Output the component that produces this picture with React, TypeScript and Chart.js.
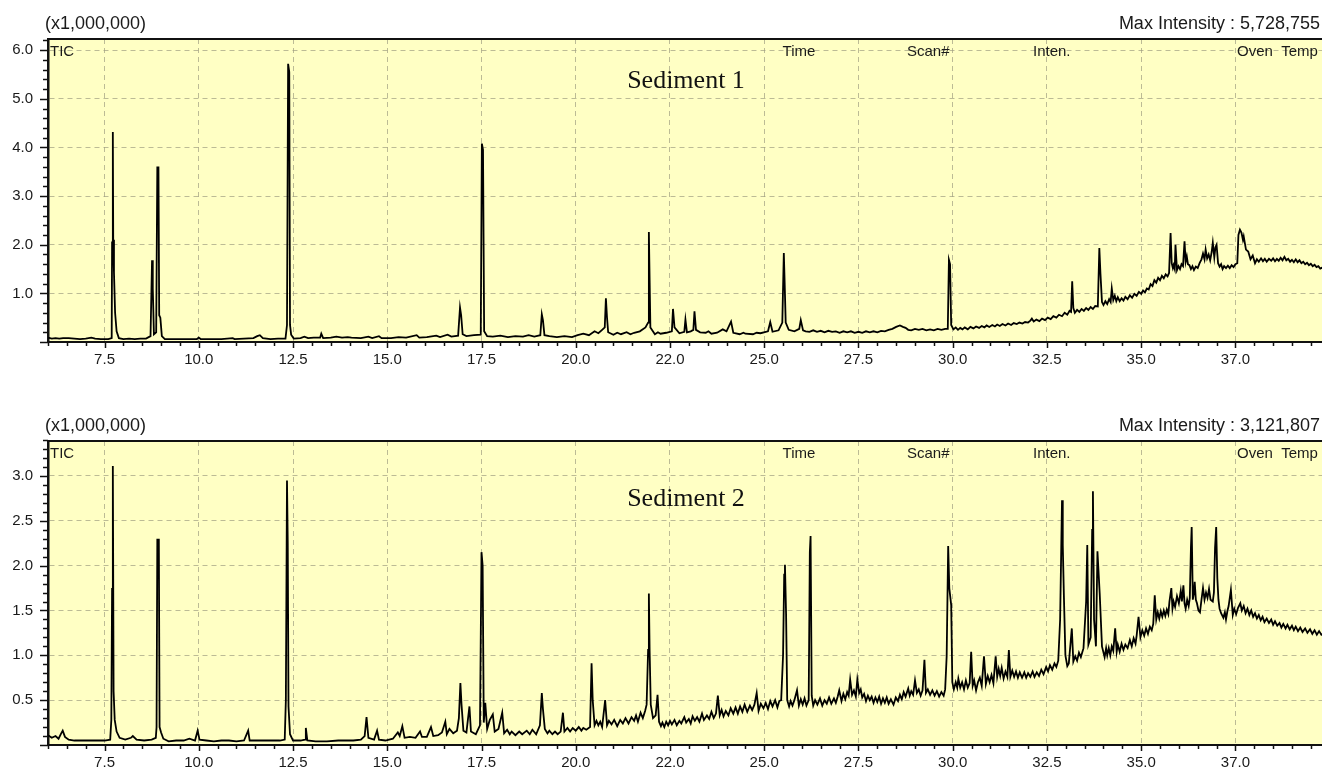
import React, { useEffect, useRef } from 'react';
import { Chart, registerables } from 'chart.js';

Chart.register(...registerables);

// ---- Axis ticks ----
const xTickValues = [7.5, 10, 12.5, 15, 17.5, 20, 22.5, 25, 27.5, 30, 32.5, 35, 37.5];
const xTickLabels = ['7.5', '10.0', '12.5', '15.0', '17.5', '20.0', '22.0', '25.0', '27.5', '30.0', '32.5', '35.0', '37.0'];
const yTicksSediment1 = [1, 2, 3, 4, 5, 6];
const yTicksSediment2 = [0.5, 1, 1.5, 2, 2.5, 3];
const headerLabels = ['Time', 'Scan#', 'Inten.', 'Oven  Temp'];

// ---- Chromatogram traces: [retention time (min), intensity (x1,000,000)] ----
const sediment1Trace: [number, number][] = [
  [6.00,0.09],[6.10,0.07],[6.20,0.08],[6.30,0.07],[6.40,0.08],[6.55,0.08],[6.70,0.07],[6.85,0.06],[7.00,0.07],[7.15,0.09],[7.25,0.07],[7.40,0.06],[7.60,0.06],
  [7.69,0.08],[7.70,2.05],[7.72,4.32],[7.73,2.10],[7.75,1.43],[7.78,0.60],[7.82,0.22],[7.88,0.08],[8.00,0.06],[8.15,0.07],[8.30,0.06],[8.45,0.07],[8.60,0.07],
  [8.72,0.12],[8.76,1.68],[8.78,1.10],[8.81,0.16],[8.87,0.20],[8.90,3.59],[8.93,3.59],[8.95,0.55],[8.98,0.50],[9.02,0.12],[9.10,0.06],[9.30,0.06],[9.50,0.06],
  [9.70,0.06],[9.95,0.06],[10.00,0.09],[10.05,0.06],[10.30,0.06],[10.60,0.06],[10.90,0.08],[10.95,0.06],[11.20,0.07],[11.45,0.08],[11.55,0.12],[11.62,0.14],
  [11.70,0.08],[11.90,0.06],[12.10,0.07],[12.30,0.07],[12.34,0.35],[12.37,5.72],[12.40,5.55],[12.42,0.35],[12.45,0.15],[12.52,0.07],[12.70,0.08],[12.80,0.11],
  [12.90,0.08],[13.05,0.09],[13.22,0.09],[13.25,0.17],[13.30,0.08],[13.50,0.09],[13.65,0.11],[13.80,0.09],[13.95,0.10],[14.05,0.09],[14.30,0.08],[14.50,0.11],
  [14.60,0.08],[14.78,0.12],[14.85,0.08],[15.10,0.08],[15.30,0.10],[15.50,0.09],[15.78,0.14],[15.85,0.09],[16.05,0.10],[16.30,0.13],[16.40,0.10],[16.60,0.15],
  [16.70,0.11],[16.88,0.13],[16.93,0.71],[16.96,0.55],[17.00,0.16],[17.10,0.12],[17.30,0.14],[17.48,0.15],[17.51,4.08],[17.54,3.95],[17.57,0.22],[17.65,0.12],
  [17.80,0.11],[18.00,0.13],[18.20,0.10],[18.40,0.12],[18.60,0.11],[18.75,0.14],[18.90,0.11],[19.06,0.14],[19.10,0.57],[19.13,0.45],[19.17,0.14],[19.30,0.12],
  [19.50,0.10],[19.70,0.12],[19.90,0.10],[20.05,0.14],[20.20,0.17],[20.35,0.14],[20.50,0.22],[20.60,0.18],[20.70,0.25],[20.77,0.30],[20.80,0.90],[20.83,0.50],
  [20.86,0.20],[21.00,0.15],[21.10,0.19],[21.20,0.16],[21.35,0.20],[21.45,0.16],[21.55,0.19],[21.70,0.22],[21.85,0.30],[21.92,0.40],[21.94,2.26],[21.96,1.28],
  [21.98,0.30],[22.10,0.16],[22.18,0.20],[22.25,0.17],[22.40,0.19],[22.55,0.22],[22.58,0.68],[22.62,0.30],[22.75,0.18],[22.88,0.21],[22.91,0.46],[22.95,0.20],
  [23.05,0.22],[23.12,0.25],[23.15,0.63],[23.19,0.25],[23.30,0.20],[23.45,0.19],[23.52,0.22],[23.60,0.17],[23.75,0.19],[23.90,0.26],[24.00,0.22],[24.12,0.42],
  [24.18,0.19],[24.35,0.16],[24.45,0.19],[24.50,0.17],[24.70,0.16],[24.80,0.19],[24.90,0.18],[25.10,0.22],[25.16,0.41],[25.22,0.21],[25.38,0.24],[25.48,0.40],
  [25.52,1.83],[25.54,1.28],[25.57,0.40],[25.65,0.25],[25.80,0.22],[25.93,0.27],[25.97,0.45],[26.03,0.24],[26.10,0.22],[26.20,0.21],[26.30,0.24],[26.40,0.21],
  [26.50,0.23],[26.60,0.20],[26.70,0.23],[26.80,0.21],[26.90,0.22],[27.00,0.19],[27.10,0.22],[27.20,0.20],[27.30,0.22],[27.40,0.19],[27.50,0.21],[27.60,0.19],
  [27.70,0.22],[27.80,0.20],[27.90,0.22],[28.00,0.20],[28.10,0.23],[28.20,0.22],[28.30,0.25],[28.40,0.27],[28.50,0.31],[28.60,0.34],[28.68,0.31],[28.75,0.29],
  [28.82,0.25],[28.90,0.24],[29.00,0.27],[29.10,0.25],[29.20,0.27],[29.30,0.24],[29.40,0.26],[29.50,0.24],[29.60,0.27],[29.70,0.25],[29.80,0.27],[29.87,0.27],
  [29.90,1.69],[29.93,1.60],[29.96,0.35],[30.02,0.26],[30.08,0.30],[30.14,0.25],[30.20,0.29],[30.26,0.26],[30.32,0.30],[30.40,0.26],[30.47,0.31],[30.55,0.28],
  [30.62,0.32],[30.70,0.29],[30.77,0.33],[30.84,0.30],[30.90,0.34],[30.97,0.31],[31.05,0.35],[31.12,0.32],[31.18,0.36],[31.25,0.33],[31.32,0.37],[31.40,0.34],
  [31.47,0.38],[31.55,0.35],[31.62,0.39],[31.70,0.37],[31.77,0.40],[31.85,0.38],[31.92,0.41],[32.00,0.40],[32.06,0.44],[32.10,0.48],[32.15,0.42],[32.22,0.46],
  [32.30,0.43],[32.37,0.48],[32.45,0.45],[32.52,0.50],[32.60,0.47],[32.67,0.53],[32.75,0.50],[32.82,0.56],[32.90,0.53],[32.97,0.60],[33.04,0.56],[33.10,0.64],
  [33.14,0.62],[33.17,1.25],[33.20,0.70],[33.24,0.60],[33.30,0.66],[33.36,0.62],[33.42,0.68],[33.48,0.64],[33.54,0.70],[33.60,0.66],[33.66,0.72],[33.72,0.68],
  [33.78,0.74],[33.85,0.73],[33.89,1.93],[33.92,1.40],[33.96,0.82],[34.00,0.76],[34.05,0.84],[34.10,0.78],[34.15,0.88],[34.19,0.82],[34.22,1.10],[34.26,0.86],
  [34.30,0.95],[34.34,0.84],[34.38,0.92],[34.43,0.84],[34.48,0.90],[34.53,0.85],[34.58,0.93],[34.64,0.88],[34.70,0.96],[34.76,0.91],[34.82,0.99],[34.88,0.95],
  [34.94,1.03],[35.00,0.99],[35.05,1.06],[35.10,1.02],[35.15,1.10],[35.20,1.08],[35.25,1.19],[35.30,1.15],[35.35,1.27],[35.40,1.22],[35.45,1.32],[35.50,1.27],
  [35.55,1.36],[35.60,1.31],[35.65,1.39],[35.70,1.35],[35.74,1.42],[35.78,2.24],[35.81,1.62],[35.84,1.52],[35.86,1.58],[35.89,1.50],[35.91,2.00],[35.95,1.48],
  [35.99,1.56],[36.03,1.50],[36.07,1.60],[36.11,1.56],[36.15,2.07],[36.18,1.65],[36.21,1.76],[36.24,1.60],[36.28,1.58],[36.32,1.50],[36.36,1.56],[36.40,1.48],
  [36.45,1.55],[36.50,1.52],[36.55,1.62],[36.60,1.70],[36.64,1.82],[36.68,1.70],[36.71,1.90],[36.75,1.72],[36.79,1.80],[36.83,1.68],[36.87,1.85],[36.90,2.04],
  [36.94,1.74],[36.97,1.95],[37.00,2.00],[37.04,1.62],[37.08,1.55],[37.12,1.60],[37.16,1.50],[37.20,1.56],[37.25,1.52],[37.30,1.57],[37.35,1.52],[37.40,1.58],
  [37.45,1.54],[37.50,1.60],[37.55,1.62],[37.58,2.20],[37.62,2.31],[37.66,2.25],[37.70,2.10],[37.72,2.17],[37.78,1.90],[37.84,1.86],[37.90,1.70],[37.96,1.78],
  [38.02,1.62],[38.07,1.70],[38.12,1.65],[38.18,1.72],[38.23,1.66],[38.28,1.71],[38.33,1.65],[38.39,1.71],[38.45,1.67],[38.50,1.72],[38.55,1.66],[38.60,1.71],
  [38.65,1.67],[38.70,1.73],[38.75,1.68],[38.80,1.75],[38.85,1.68],[38.90,1.71],[38.95,1.65],[39.00,1.69],[39.05,1.64],[39.10,1.70],[39.15,1.64],[39.20,1.68],
  [39.25,1.62],[39.30,1.65],[39.35,1.60],[39.40,1.63],[39.45,1.58],[39.50,1.61],[39.55,1.56],[39.60,1.59],[39.65,1.54],[39.70,1.56],[39.75,1.51],[39.80,1.53],
  [39.85,1.49],[39.90,1.50]
];

const sediment2Trace: [number, number][] = [
  [6.00,0.11],[6.10,0.08],[6.20,0.10],[6.28,0.07],[6.35,0.13],[6.39,0.16],[6.45,0.09],[6.55,0.06],[6.70,0.05],[6.90,0.05],[7.10,0.05],[7.30,0.05],[7.50,0.05],
  [7.65,0.06],[7.68,0.28],[7.70,1.74],[7.72,3.11],[7.74,0.60],[7.77,0.28],[7.82,0.15],[7.90,0.08],[8.05,0.06],[8.20,0.08],[8.25,0.10],[8.35,0.06],[8.55,0.05],
  [8.75,0.06],[8.86,0.08],[8.88,0.20],[8.90,2.29],[8.94,2.29],[8.96,0.20],[9.00,0.14],[9.06,0.07],[9.20,0.04],[9.40,0.05],[9.60,0.05],[9.75,0.07],[9.90,0.05],
  [9.97,0.16],[10.02,0.06],[10.20,0.05],[10.40,0.04],[10.60,0.05],[10.80,0.05],[11.00,0.04],[11.20,0.05],[11.31,0.16],[11.35,0.05],[11.60,0.05],[11.90,0.05],
  [12.15,0.05],[12.28,0.06],[12.31,0.50],[12.34,2.95],[12.36,2.25],[12.38,0.43],[12.42,0.12],[12.50,0.05],[12.70,0.05],[12.82,0.06],[12.84,0.19],[12.88,0.05],
  [13.10,0.04],[13.40,0.04],[13.70,0.05],[13.95,0.05],[14.10,0.05],[14.30,0.06],[14.40,0.10],[14.45,0.31],[14.50,0.08],[14.65,0.06],[14.73,0.16],[14.78,0.06],
  [14.95,0.05],[15.15,0.07],[15.28,0.14],[15.33,0.10],[15.40,0.21],[15.46,0.08],[15.60,0.09],[15.75,0.08],[15.87,0.15],[15.92,0.09],[16.05,0.09],[16.16,0.20],
  [16.22,0.10],[16.35,0.11],[16.45,0.14],[16.54,0.26],[16.58,0.12],[16.65,0.18],[16.75,0.13],[16.85,0.16],[16.90,0.30],[16.94,0.69],[16.97,0.45],[17.02,0.16],
  [17.10,0.14],[17.18,0.43],[17.22,0.15],[17.35,0.12],[17.46,0.22],[17.50,2.15],[17.53,2.00],[17.56,0.25],[17.60,0.47],[17.65,0.18],[17.72,0.28],[17.80,0.34],
  [17.85,0.15],[17.95,0.18],[18.05,0.36],[18.10,0.13],[18.18,0.17],[18.25,0.12],[18.30,0.15],[18.40,0.11],[18.50,0.15],[18.58,0.12],[18.70,0.16],[18.78,0.12],
  [18.85,0.17],[18.95,0.12],[19.05,0.22],[19.10,0.58],[19.13,0.40],[19.18,0.18],[19.25,0.13],[19.30,0.16],[19.38,0.12],[19.45,0.15],[19.52,0.12],[19.60,0.15],
  [19.66,0.36],[19.70,0.15],[19.78,0.19],[19.85,0.15],[19.92,0.19],[20.00,0.16],[20.08,0.20],[20.15,0.16],[20.20,0.19],[20.28,0.17],[20.38,0.20],[20.42,0.91],
  [20.45,0.50],[20.50,0.22],[20.55,0.27],[20.60,0.22],[20.65,0.26],[20.70,0.20],[20.78,0.50],[20.83,0.22],[20.88,0.27],[20.95,0.23],[21.02,0.28],[21.10,0.21],
  [21.18,0.28],[21.25,0.24],[21.32,0.30],[21.40,0.24],[21.48,0.31],[21.55,0.27],[21.60,0.33],[21.65,0.26],[21.72,0.36],[21.78,0.30],[21.84,0.38],[21.88,0.45],
  [21.92,1.06],[21.94,1.69],[21.96,1.05],[21.99,0.45],[22.05,0.30],[22.12,0.33],[22.17,0.56],[22.21,0.26],[22.26,0.21],[22.30,0.25],[22.35,0.20],[22.40,0.26],
  [22.45,0.22],[22.50,0.27],[22.55,0.23],[22.62,0.28],[22.68,0.22],[22.75,0.27],[22.80,0.24],[22.88,0.31],[22.93,0.25],[23.00,0.29],[23.05,0.24],[23.10,0.32],
  [23.16,0.27],[23.22,0.31],[23.28,0.26],[23.35,0.35],[23.40,0.28],[23.48,0.33],[23.54,0.29],[23.60,0.37],[23.66,0.30],[23.72,0.35],[23.77,0.55],[23.82,0.33],
  [23.87,0.39],[23.92,0.32],[23.98,0.38],[24.05,0.33],[24.11,0.41],[24.18,0.35],[24.24,0.42],[24.30,0.35],[24.36,0.43],[24.42,0.37],[24.48,0.45],[24.55,0.37],
  [24.62,0.44],[24.68,0.39],[24.74,0.45],[24.80,0.58],[24.85,0.38],[24.91,0.46],[24.98,0.41],[25.04,0.47],[25.10,0.40],[25.16,0.49],[25.22,0.43],[25.29,0.50],
  [25.35,0.42],[25.40,0.49],[25.45,0.50],[25.50,1.00],[25.53,1.90],[25.55,2.01],[25.58,1.46],[25.61,0.50],[25.66,0.43],[25.70,0.49],[25.75,0.44],[25.80,0.50],
  [25.87,0.61],[25.92,0.44],[25.97,0.51],[26.02,0.45],[26.07,0.52],[26.12,0.44],[26.18,0.50],[26.21,2.15],[26.23,2.33],[26.26,0.55],[26.30,0.44],[26.35,0.50],
  [26.41,0.45],[26.48,0.52],[26.54,0.44],[26.60,0.50],[26.66,0.46],[26.72,0.53],[26.78,0.46],[26.85,0.52],[26.90,0.47],[26.95,0.54],[26.99,0.61],[27.05,0.49],
  [27.10,0.57],[27.15,0.51],[27.20,0.59],[27.24,0.55],[27.28,0.73],[27.33,0.56],[27.38,0.61],[27.43,0.54],[27.47,0.73],[27.52,0.58],[27.56,0.62],[27.60,0.53],
  [27.65,0.57],[27.70,0.49],[27.75,0.55],[27.80,0.50],[27.85,0.54],[27.90,0.47],[27.95,0.53],[28.00,0.48],[28.05,0.54],[28.10,0.46],[28.15,0.52],[28.20,0.47],
  [28.25,0.53],[28.30,0.46],[28.36,0.51],[28.43,0.45],[28.49,0.53],[28.55,0.49],[28.60,0.56],[28.65,0.51],[28.70,0.59],[28.75,0.54],[28.82,0.63],[28.86,0.55],
  [28.90,0.60],[28.95,0.56],[29.00,0.72],[29.05,0.58],[29.10,0.62],[29.15,0.55],[29.20,0.61],[29.25,0.95],[29.29,0.58],[29.34,0.62],[29.40,0.56],[29.46,0.61],
  [29.52,0.55],[29.58,0.60],[29.64,0.54],[29.70,0.59],[29.76,0.55],[29.80,0.62],[29.84,0.99],[29.88,2.22],[29.91,1.75],[29.96,1.56],[29.99,0.70],[30.03,0.62],
  [30.08,0.70],[30.12,0.64],[30.15,0.74],[30.20,0.64],[30.25,0.70],[30.30,0.62],[30.35,0.72],[30.40,0.64],[30.45,0.69],[30.49,1.04],[30.53,0.66],[30.57,0.72],
  [30.62,0.61],[30.67,0.70],[30.72,0.75],[30.77,0.66],[30.83,0.99],[30.88,0.68],[30.93,0.77],[30.98,0.70],[31.03,0.78],[31.08,0.69],[31.14,0.99],[31.18,0.76],
  [31.22,0.85],[31.26,0.77],[31.30,0.86],[31.35,0.74],[31.40,0.82],[31.45,0.76],[31.49,1.06],[31.53,0.76],[31.58,0.83],[31.63,0.76],[31.68,0.82],[31.73,0.75],
  [31.78,0.81],[31.84,0.75],[31.90,0.81],[31.95,0.75],[32.00,0.80],[32.06,0.76],[32.12,0.82],[32.17,0.76],[32.23,0.81],[32.29,0.77],[32.35,0.84],[32.41,0.79],
  [32.48,0.87],[32.53,0.82],[32.58,0.89],[32.64,0.84],[32.70,0.91],[32.75,0.87],[32.80,0.94],[32.85,1.40],[32.88,2.20],[32.90,2.73],[32.92,2.23],[32.95,1.66],
  [32.99,1.00],[33.04,0.88],[33.08,0.91],[33.16,1.30],[33.20,0.93],[33.25,0.99],[33.30,0.94],[33.35,1.03],[33.40,0.98],[33.47,1.08],[33.54,1.60],[33.57,2.23],
  [33.60,1.12],[33.66,1.20],[33.70,2.40],[33.72,2.83],[33.75,1.40],[33.80,1.10],[33.84,2.16],[33.90,1.69],[33.96,1.10],[34.03,0.98],[34.07,1.08],[34.10,1.00],
  [34.14,1.08],[34.18,1.00],[34.22,1.10],[34.26,1.05],[34.31,1.30],[34.35,1.04],[34.38,1.12],[34.43,1.04],[34.48,1.13],[34.53,1.06],[34.58,1.12],[34.64,1.08],
  [34.70,1.17],[34.75,1.10],[34.80,1.19],[34.85,1.13],[34.88,1.22],[34.93,1.43],[34.98,1.20],[35.03,1.28],[35.08,1.22],[35.13,1.30],[35.18,1.24],[35.23,1.32],
  [35.28,1.28],[35.32,1.35],[35.36,1.67],[35.40,1.40],[35.44,1.48],[35.48,1.41],[35.52,1.49],[35.56,1.43],[35.60,1.50],[35.64,1.44],[35.68,1.51],[35.72,1.46],
  [35.75,1.60],[35.80,1.75],[35.83,1.52],[35.86,1.60],[35.90,1.54],[35.95,1.66],[36.00,1.58],[36.05,1.72],[36.08,1.60],[36.12,1.78],[36.15,1.58],[36.18,1.52],
  [36.22,1.62],[36.26,1.55],[36.29,1.64],[36.32,2.20],[36.34,2.43],[36.37,1.62],[36.40,1.70],[36.42,1.82],[36.45,1.62],[36.48,1.58],[36.52,1.50],[36.56,1.48],
  [36.60,1.62],[36.64,1.75],[36.68,1.62],[36.72,1.70],[36.76,1.64],[36.80,1.74],[36.84,1.62],[36.90,1.60],[36.93,1.70],[36.96,2.20],[36.99,2.43],[37.02,1.86],
  [37.05,1.62],[37.08,1.52],[37.12,1.47],[37.18,1.42],[37.22,1.48],[37.25,1.40],[37.29,1.50],[37.32,1.55],[37.38,1.73],[37.43,1.45],[37.47,1.52],[37.52,1.46],
  [37.57,1.53],[37.63,1.58],[37.67,1.50],[37.72,1.55],[37.77,1.47],[37.82,1.52],[37.87,1.45],[37.92,1.50],[37.97,1.43],[38.02,1.47],[38.07,1.41],[38.12,1.45],
  [38.17,1.39],[38.22,1.43],[38.27,1.37],[38.33,1.41],[38.39,1.36],[38.45,1.40],[38.50,1.34],[38.55,1.38],[38.61,1.33],[38.67,1.36],[38.72,1.31],[38.77,1.35],
  [38.83,1.30],[38.88,1.34],[38.94,1.29],[39.00,1.33],[39.05,1.28],[39.10,1.32],[39.16,1.27],[39.22,1.31],[39.28,1.26],[39.35,1.30],[39.41,1.25],[39.48,1.29],
  [39.54,1.24],[39.60,1.28],[39.66,1.23],[39.72,1.27],[39.78,1.23],[39.85,1.25]
];

const FONT = '"Liberation Sans", Arial, Helvetica, sans-serif';
const SERIF = '"Liberation Serif", "Times New Roman", Times, serif';
const PLOT_BG = '#FFFFC4';
const GRID = 'rgba(160,158,130,0.7)';
const INK = '#111';

type PanelSpec = {
  trace: [number, number][];
  yMax: number;
  yTicks: number[];
  yMinor: number;
  yMajor: number;
  maxIntensity: string;
  sample: string;
  height: number;
  padTop: number;
  xAxisHeight: number;
  sampleBaseline: number;
};

const panels: PanelSpec[] = [
  { trace: sediment1Trace, yMax: 6.23, yTicks: yTicksSediment1, yMinor: 0.2, yMajor: 1, maxIntensity: 'Max Intensity : 5,728,755', sample: 'Sediment 1', height: 380, padTop: 39, xAxisHeight: 38, sampleBaseline: 49 },
  { trace: sediment2Trace, yMax: 3.39, yTicks: yTicksSediment2, yMinor: 0.1, yMajor: 0.5, maxIntensity: 'Max Intensity : 3,121,807', sample: 'Sediment 2', height: 394, padTop: 61, xAxisHeight: 29, sampleBaseline: 65 },
];

function Panel({ spec, top }: { spec: PanelSpec; top: number }) {
  const ref = useRef<HTMLCanvasElement>(null);
  useEffect(() => {
    const canvas = ref.current;
    if (!canvas) return;
    const decor = {
      id: 'decor',
      beforeDraw(chart: any) {
        const { ctx, chartArea: a } = chart;
        ctx.save();
        ctx.fillStyle = PLOT_BG;
        ctx.fillRect(a.left, a.top, a.right - a.left, a.bottom - a.top);
        ctx.restore();
      },
      afterDraw(chart: any) {
        const { ctx, chartArea: a, scales } = chart;
        const xs = scales.x, ys = scales.y;
        ctx.save();
        // top frame line
        ctx.strokeStyle = INK;
        ctx.lineWidth = 2;
        ctx.beginPath();
        ctx.moveTo(a.left - 1, a.top);
        ctx.lineTo(a.right, a.top);
        ctx.stroke();
        // y tick marks (major + minor)
        ctx.lineWidth = 1.5;
        const nY = Math.round(ys.max / spec.yMinor);
        for (let i = 0; i <= nY; i++) {
          const v = i * spec.yMinor;
          const r = v / spec.yMajor;
          const major = Math.abs(r - Math.round(r)) < 1e-6;
          const py = Math.round(ys.getPixelForValue(v)) + 0.5;
          const len = major ? 8 : 5;
          ctx.beginPath();
          ctx.moveTo(a.left - len, py);
          ctx.lineTo(a.left, py);
          ctx.stroke();
        }
        // x tick marks (major every 2.5, minor every 0.5)
        for (let i = 12; i * 0.5 <= xs.max; i++) {
          const v = i * 0.5;
          const major = i % 5 === 0;
          const px = Math.round(xs.getPixelForValue(v)) + 0.5;
          const len = major ? 6 : 4;
          ctx.beginPath();
          ctx.moveTo(px, a.bottom);
          ctx.lineTo(px, a.bottom + len);
          ctx.stroke();
        }
        // texts
        ctx.fillStyle = '#1a1a1a';
        ctx.textBaseline = 'alphabetic';
        ctx.font = `18px ${FONT}`;
        ctx.textAlign = 'left';
        ctx.fillText('(x1,000,000)', 45, a.top - 10);
        ctx.textAlign = 'right';
        ctx.fillText(spec.maxIntensity, 1320, a.top - 10);
        ctx.font = `15px ${FONT}`;
        ctx.textAlign = 'left';
        ctx.fillText('TIC', a.left + 2, a.top + 17);
        ctx.textAlign = 'center';
        ctx.fillText(headerLabels[0], 799, a.top + 17);
        ctx.textAlign = 'left';
        ctx.fillText(headerLabels[1], 907, a.top + 17);
        ctx.fillText(headerLabels[2], 1033, a.top + 17);
        ctx.fillText(headerLabels[3], 1237, a.top + 17);
        ctx.font = `26px ${SERIF}`;
        ctx.textAlign = 'center';
        ctx.fillStyle = '#111';
        ctx.fillText(spec.sample, 686, a.top + spec.sampleBaseline);
        ctx.restore();
      },
    };

    const chart = new Chart(canvas, {
      type: 'line',
      data: {
        datasets: [
          {
            label: spec.sample,
            data: spec.trace.map(([x, y]) => ({ x, y })),
            borderColor: '#000',
            borderWidth: 1.8,
            pointRadius: 0,
            tension: 0,
            fill: false,
          },
        ],
      },
      options: {
        responsive: false,
        animation: false,
        devicePixelRatio: 1,
        events: [],
        layout: { padding: { top: spec.padTop, right: 16, left: 0, bottom: 0 } },
        plugins: { legend: { display: false }, tooltip: { enabled: false }, title: { display: false } },
        scales: {
          x: {
            type: 'linear',
            min: 6,
            max: 39.85,
            afterBuildTicks: (s: any) => {
              s.ticks = xTickValues.map((v) => ({ value: v }));
            },
            afterFit: (s: any) => {
              s.height = spec.xAxisHeight;
            },
            ticks: {
              autoSkip: false,
              maxRotation: 0,
              padding: 9,
              color: '#1a1a1a',
              font: { family: FONT, size: 15 },
              callback: (v: any) => {
                const i = xTickValues.indexOf(Number(v));
                return i >= 0 ? xTickLabels[i] : '';
              },
            },
            grid: { color: GRID, lineWidth: 1, drawTicks: false },
            border: { display: true, color: INK, width: 2, dash: [5, 4] },
          },
          y: {
            type: 'linear',
            min: 0,
            max: spec.yMax,
            afterBuildTicks: (s: any) => {
              s.ticks = spec.yTicks.map((v) => ({ value: v }));
            },
            afterFit: (s: any) => {
              s.width = 48;
            },
            ticks: {
              padding: 15,
              color: '#1a1a1a',
              font: { family: FONT, size: 15 },
              callback: (v: any) => Number(v).toFixed(1),
            },
            grid: { color: GRID, lineWidth: 1, drawTicks: false },
            border: { display: true, color: INK, width: 2.5, dash: [5, 4] },
          },
        },
      } as any,
      plugins: [decor],
    });
    return () => chart.destroy();
  }, [spec]);

  return (
    <canvas
      ref={ref}
      width={1340}
      height={spec.height}
      style={{ position: 'absolute', left: 0, top, width: 1340, height: spec.height }}
    />
  );
}

export default function App() {
  return (
    <div style={{ position: 'fixed', left: 0, top: 0, width: 1322, height: 774, overflow: 'hidden', background: '#fff' }}>
      <Panel spec={panels[0]} top={0} />
      <Panel spec={panels[1]} top={380} />
    </div>
  );
}
